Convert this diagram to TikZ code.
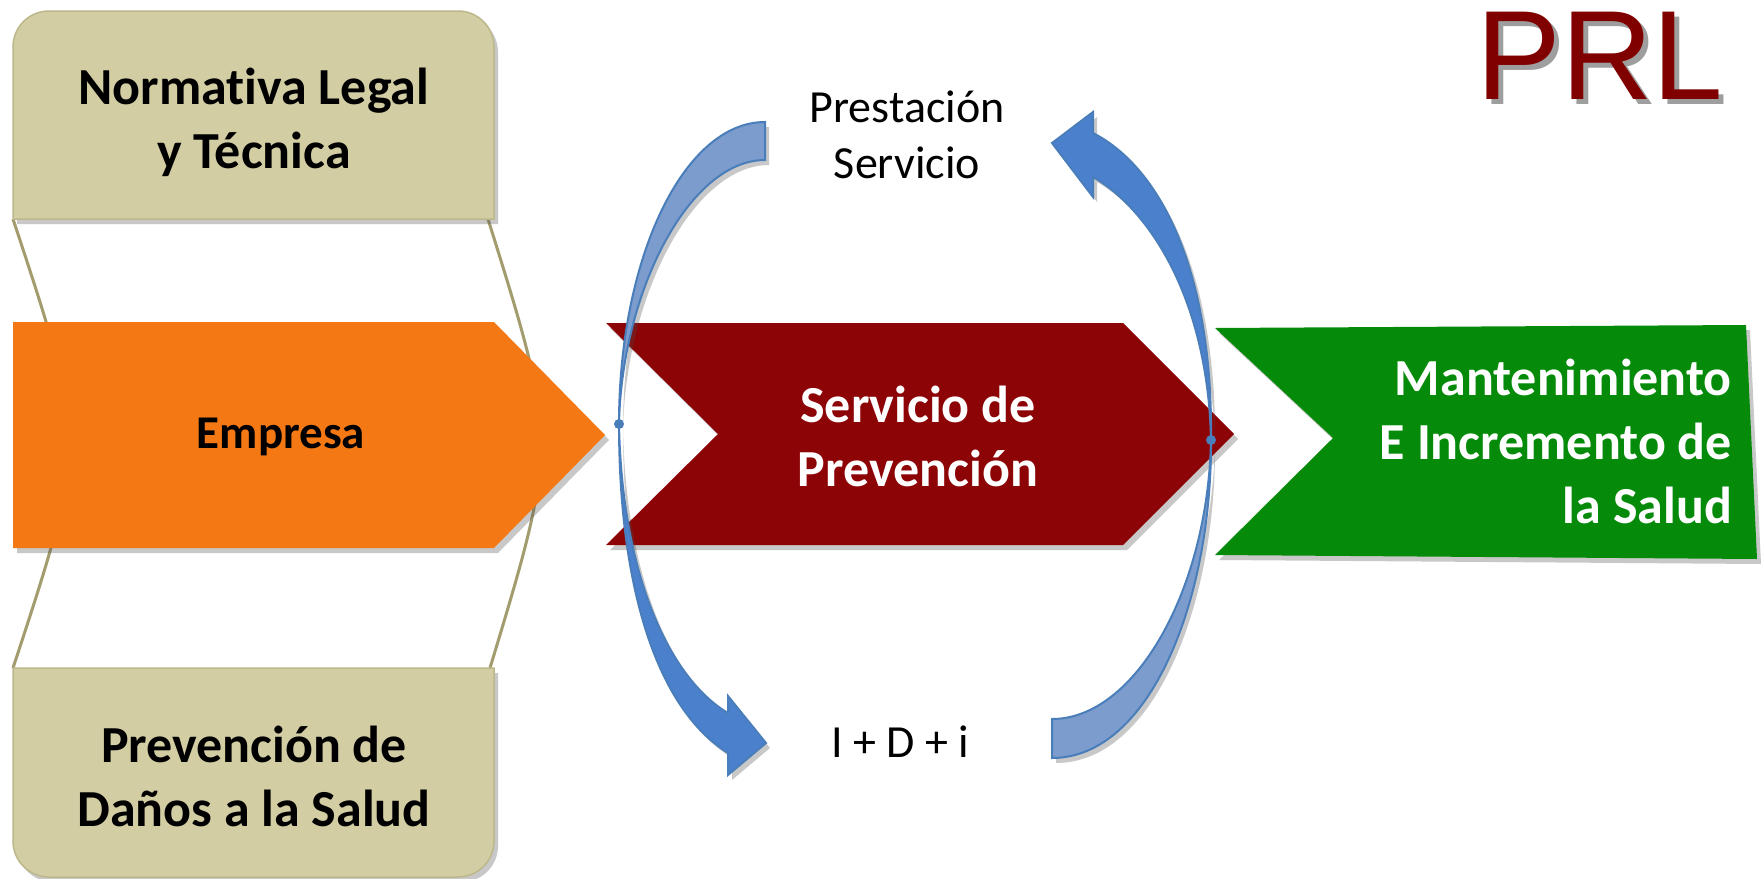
\documentclass[tikz,border=0pt]{standalone}
\usepackage{fontspec}
\setmainfont{Carlito}[Ligatures={NoCommon}]
\newfontfamily\prlfont{Liberation Sans}
\usetikzlibrary{shadows}
\definecolor{tanF}{HTML}{D3CDA3}
\definecolor{tanLine}{HTML}{A29C6E}
\definecolor{tanEdge}{HTML}{BDB78C}
\definecolor{orangeF}{HTML}{F47814}
\definecolor{redF}{HTML}{8C0406}
\definecolor{greenF}{HTML}{068A0A}
\definecolor{blueHead}{HTML}{4A80CC}
\definecolor{blueTail}{HTML}{7B9CCD}
\definecolor{blueEdge}{HTML}{4A7EBB}
\definecolor{prlRed}{HTML}{800000}
\tikzset{
  shapeshadow/.style={drop shadow={shadow xshift=4pt,shadow yshift=-5pt,fill=black!70,opacity=0.3}},
  tanbox/.style={fill=tanF,draw=tanEdge,line width=1.5pt,shapeshadow},
  linkline/.style={draw=tanLine,line width=3pt},
  headlobe/.style={fill=blueHead,draw=blueEdge,line width=2pt,shapeshadow},
  taillobe/.style={fill=blueTail,draw=blueEdge,line width=2pt,shapeshadow},
  boldlabel/.style={font=\fontsize{52}{64}\selectfont\bfseries,align=center,inner sep=0pt},
  plainlabel/.style={font=\fontsize{46}{56}\selectfont,align=center,inner sep=0pt},
}
\begin{document}
\begin{tikzpicture}[x=1pt,y=-1pt]
\useasboundingbox[fill=white] (0,0) rectangle (1764,878);

% connecting lines
\draw[linkline] (13,219) .. controls (87,443) .. (13,668);
\draw[linkline] (488,219) .. controls (558,443) .. (490,668);

% tan boxes
\path[tanbox] (13,219) -- (13,47) .. controls (13,27.1) and (28.9,11) .. (49,11)
  -- (458,11) .. controls (477.9,11) and (494,27.1) .. (494,47) -- (494,219) -- cycle;
\path[tanbox] (13,668) -- (494,668) -- (494,841) .. controls (494,860.9) and (477.9,877) .. (458,877)
  -- (49,877) .. controls (29.1,877) and (13,860.9) .. (13,841) -- cycle;

% chevrons
\path[fill=orangeF,shapeshadow] (13,322) -- (494,322) -- (605,435) -- (494,548) -- (13,548) -- cycle;
\path[fill=redF,shapeshadow] (606,323) -- (1123,323) -- (1234,434) -- (1123,545) -- (606,545) -- (718,434) -- cycle;
\path[fill=greenF,shapeshadow] (1215,328) -- (1746,325) -- (1757,559) -- (1215,555) -- (1333,438) -- cycle;

% left curved arrow
\coordinate (cl) at (619,424);
\path[taillobe] (765,122) .. controls (684,122) and (619,257) .. (cl)
  .. controls (622,290) and (690,160) .. (765,160) -- cycle;
\path[headlobe] (cl) .. controls (619,600) and (662,712) .. (728,753)
  -- (728,775) -- (766,743) -- (728,696) -- (728,713)
  .. controls (672,680) and (622,580) .. (cl) -- cycle;
\fill[blueEdge] (cl) circle (5);

% right curved arrow
\coordinate (cr) at (1211,440);
\path[taillobe] (1052,758) .. controls (1150,758) and (1212,600) .. (cr)
  .. controls (1208,590) and (1135,719) .. (1052,719) -- cycle;
\path[headlobe] (cr) .. controls (1213,280) and (1165,170) .. (1093,133)
  -- (1093,112) -- (1052,143) -- (1093,197) -- (1093,177)
  .. controls (1150,210) and (1208,300) .. (cr) -- cycle;
\fill[blueEdge] (cr) circle (5);

% texts
\node[boldlabel] (normativa) at (254,122) {Normat\kern0pt iva Legal\\y Técnica};
\node[boldlabel] (danos) at (254,776) {Prevención de\\Daños a la Salud};
\node[boldlabel,font=\fontsize{47}{56}\selectfont\bfseries] (empresa) at (281,437) {Empresa};
\node[boldlabel,text=white] (servicio) at (918,436) {Servicio de\\Prevención};
\node[boldlabel,text=white,align=right,anchor=east] (mant) at (1732,441) {Mantenimiento\\E Incremento de\\la Salud};
\node[plainlabel] (prest) at (907,135) {Prestación\\Servicio};
\node[plainlabel] (imas) at (900,742) {I + D + i};
\node[font=\fontsize{127}{130}\selectfont\prlfont,text=prlRed,anchor=base,inner sep=0pt] (prl) at (1600,99)
  {\makebox[0pt][l]{\hspace{5pt}\raisebox{-5pt}[0pt][0pt]{\textcolor{black!38}{PRL}}}PRL};
\end{tikzpicture}
\end{document}
